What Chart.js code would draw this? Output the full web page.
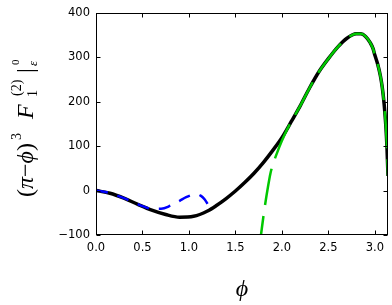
<!DOCTYPE html>
<html>
<head>
<meta charset="utf-8">
<script src="https://cdn.jsdelivr.net/npm/chart.js@4/dist/chart.umd.min.js"></script>
<style>
html,body{margin:0;padding:0;background:#fff;}
canvas{display:block;}
</style>
</head>
<body>
<canvas id="c" width="392" height="305"></canvas>
<script>
// ---- data ----
const xTicks = [0, 0.5, 1.0, 1.5, 2.0, 2.5, 3.0];
const yTicks = [-100, 0, 100, 200, 300, 400];

const phiBlack = [0,0.15,0.3,0.45,0.6,0.75,0.9,1.05,1.2,1.3,1.4,1.5,1.6,1.7,1.8,1.9,2.0,2.1,2.2,2.3,2.4,2.5,2.6,2.7,2.8,2.85,2.9,2.95,2.98,3.0,3.03,3.06,3.08,3.1,3.11,3.12,3.13,3.1416];
const valBlack = [0,-6,-17,-31,-44,-54,-60,-58,-46,-33,-18,-1,18,39,63,90,119,155,192,232,268,297,323,343,353,353,347,333,320,305,285,258,232,195,170,140,100,33];

const phiBlue = [0,0.1,0.2,0.3,0.4,0.5,0.6,0.7,0.8,0.9,0.97,1.03,1.08,1.13,1.17,1.2,1.235];
const valBlue = [0,-3,-9,-17,-26,-35,-41,-41,-34,-23,-15,-10,-8,-12,-20,-30,-43];

const phiGreen = [1.75,1.775,1.8,1.825,1.85,1.875,1.9,1.95,2.0,2.05,2.1,2.2,2.3,2.4,2.5,2.6,2.7,2.8,2.85,2.9,2.95,2.98,3.0,3.03,3.06,3.08,3.1,3.11,3.12,3.13,3.1416];
const valGreen = [-140,-100,-60,-24,8,37,57,86,112,135,155,192,232,268,297,323,343,353,353,347,333,320,305,285,258,232,195,170,140,100,33];

const toPts = (xs, ys) => xs.map((x, i) => ({x: x, y: ys[i]}));

const SERIF = '"Liberation Serif", "DejaVu Serif", serif';
const PHI = '\u03D5';

const frameAndLabels = {
  id: 'frameAndLabels',
  afterDraw(chart) {
    const ctx = chart.ctx;
    const a = chart.chartArea;
    const xs = chart.scales.x, ys = chart.scales.y;
    const L = Math.round(a.left) + 0.5, R = Math.round(a.right) - 0.5;
    const T = Math.round(a.top) + 0.5, B = Math.round(a.bottom) - 0.5;
    ctx.save();
    ctx.strokeStyle = '#000';
    ctx.lineWidth = 1;
    ctx.strokeRect(L, T, R - L, B - T);
    const tl = 4;
    ctx.beginPath();
    xTicks.forEach(v => {
      const px = Math.round(xs.getPixelForValue(v)) + 0.5;
      ctx.moveTo(px, B); ctx.lineTo(px, B - tl);
      ctx.moveTo(px, T); ctx.lineTo(px, T + tl);
    });
    yTicks.forEach(v => {
      const py = Math.round(ys.getPixelForValue(v)) + 0.5;
      ctx.moveTo(L, py); ctx.lineTo(L + tl, py);
      ctx.moveTo(R, py); ctx.lineTo(R - tl, py);
    });
    ctx.stroke();

    // x label
    ctx.fillStyle = '#000';
    ctx.font = 'italic 24px ' + SERIF;
    ctx.textAlign = 'center';
    ctx.textBaseline = 'alphabetic';
    ctx.fillText(PHI, (a.left + a.right) / 2, 296);

    // y label (rotated math text)
    ctx.translate(33, 197);
    ctx.rotate(-Math.PI / 2);
    ctx.textAlign = 'left';
    const up = '24px ' + SERIF, it = 'italic 24px ' + SERIF;
    let x = 0;
    const seq = [['(', up], ['\u03C0', it], ['\u2212', up], [PHI, it], [')', up]];
    seq.forEach(([t, f]) => { ctx.font = f; ctx.fillText(t, x, 0); x += ctx.measureText(t).width; });
    ctx.font = '14px ' + SERIF;
    ctx.fillText('3', 57, -12);
    ctx.font = it;
    ctx.fillText('F', 78, 0);
    ctx.font = '14px ' + SERIF;
    ctx.fillText('1', 100, 4);
    ctx.fillText('(2)', 101, -12);
    ctx.font = up;
    ctx.fillText('|', 124, 0);
    ctx.font = 'italic 13px ' + SERIF;
    ctx.fillText('\u03B5', 131, 4);
    ctx.font = '11px ' + SERIF;
    ctx.fillText('0', 132, -14);
    ctx.restore();
  }
};

new Chart(document.getElementById('c'), {
  type: 'line',
  data: {
    datasets: [
      {
        data: toPts(phiGreen, valGreen),
        borderColor: 'rgb(0,200,0)',
        borderWidth: 2.5,
        borderDash: [37, 11],
        borderCapStyle: 'butt',
        pointRadius: 0,
        fill: false,
        cubicInterpolationMode: 'monotone'
      },
      {
        data: toPts(phiBlue, valBlue),
        borderColor: '#0000ff',
        borderWidth: 2.5,
        borderDash: [12, 10],
        borderCapStyle: 'butt',
        pointRadius: 0,
        fill: false,
        cubicInterpolationMode: 'monotone'
      },
      {
        data: toPts(phiBlack, valBlack),
        borderColor: '#000',
        borderWidth: 3.5,
        pointRadius: 0,
        fill: false,
        cubicInterpolationMode: 'monotone'
      }
    ]
  },
  options: {
    responsive: false,
    animation: false,
    devicePixelRatio: 1,
    layout: {padding: {left: 0, right: 4, top: 8, bottom: 0}},
    plugins: {legend: {display: false}, tooltip: {enabled: false}},
    scales: {
      x: {
        type: 'linear',
        min: 0,
        max: Math.PI,
        grid: {display: false, drawTicks: false},
        border: {display: false},
        afterBuildTicks(s) { s.ticks = xTicks.map(v => ({value: v})); },
        afterFit(s) { s.height = 70; },
        ticks: {
          padding: 6,
          color: '#000',
          font: {family: 'DejaVu Sans', size: 11.5},
          maxRotation: 0,
          callback: v => Number(v).toFixed(1)
        }
      },
      y: {
        type: 'linear',
        min: -100,
        max: 400,
        grid: {display: false, drawTicks: false},
        border: {display: false},
        afterBuildTicks(s) { s.ticks = yTicks.map(v => ({value: v})); },
        afterFit(s) { s.width = 96; },
        ticks: {
          padding: 6,
          color: '#000',
          font: {family: 'DejaVu Sans', size: 11.5},
          callback: v => v < 0 ? '\u2212' + Math.abs(v) : String(v)
        }
      }
    }
  },
  plugins: [frameAndLabels]
});
</script>
</body>
</html>
